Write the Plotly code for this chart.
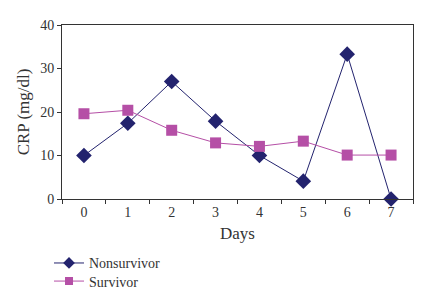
import plotly.graph_objects as go

days = [0, 1, 2, 3, 4, 5, 6, 7]
nonsurvivor = [10.0, 17.4, 27.0, 17.9, 10.0, 4.1, 33.3, 0.0]
survivor = [19.6, 20.4, 15.8, 12.9, 12.1, 13.3, 10.1, 10.1]
day_labels = [str(d) for d in days]

navy = "#23236e"
magenta = "#b54fa6"
font_family = "Liberation Serif"

fig = go.Figure()
fig.add_trace(go.Scatter(
    x=day_labels, y=nonsurvivor, name="Nonsurvivor", mode="lines+markers",
    line=dict(color=navy, width=1),
    marker=dict(symbol="diamond", size=12, color=navy),
    cliponaxis=False, showlegend=False,
))
fig.add_trace(go.Scatter(
    x=day_labels, y=survivor, name="Survivor", mode="lines+markers",
    line=dict(color=magenta, width=1),
    marker=dict(symbol="square", size=11, color=magenta),
    cliponaxis=False, showlegend=False,
))
# legend entries with smaller symbols (as in the reference)
fig.add_trace(go.Scatter(
    x=[None], y=[None], name="Nonsurvivor", mode="lines+markers",
    line=dict(color=navy, width=1),
    marker=dict(symbol="diamond", size=9, color=navy),
    legend="legend",
))
fig.add_trace(go.Scatter(
    x=[None], y=[None], name="Survivor", mode="lines+markers",
    line=dict(color=magenta, width=1),
    marker=dict(symbol="square", size=8, color=magenta),
    legend="legend2",
))

legend_font = dict(family=font_family, size=14, color="#333333")
fig.update_layout(
    width=434, height=298,
    margin=dict(l=62, r=21, t=25, b=99, autoexpand=False),
    paper_bgcolor="white", plot_bgcolor="white",
    font=dict(family=font_family, size=14, color="#333333"),
    legend=dict(x=-0.037, y=-0.278, xanchor="left", yanchor="top",
                font=legend_font, itemwidth=30, bgcolor="rgba(0,0,0,0)"),
    legend2=dict(x=-0.037, y=-0.382, xanchor="left", yanchor="top",
                 font=legend_font, itemwidth=30, bgcolor="rgba(0,0,0,0)"),
    showlegend=True,
)
fig.update_xaxes(
    type="category", tickson="boundaries", ticks="outside", ticklen=4,
    tickcolor="#333333", showline=True, linecolor="#333333", linewidth=1,
    mirror=True, showgrid=False, range=[-0.5, 7.5], automargin=False,
    title=dict(text="Days", standoff=8), tickfont=dict(size=14),
)
fig.update_yaxes(
    range=[0, 40], dtick=10, ticks="outside", ticklen=4, tickcolor="#333333",
    showline=True, linecolor="#333333", linewidth=1, mirror=True,
    showgrid=False, zeroline=False, automargin=False,
    title=dict(text="CRP (mg/dl)", standoff=6), tickfont=dict(size=14),
)

fig.write_html("out.html", config={"displayModeBar": False},
               post_script="document.body.style.margin='0';")
